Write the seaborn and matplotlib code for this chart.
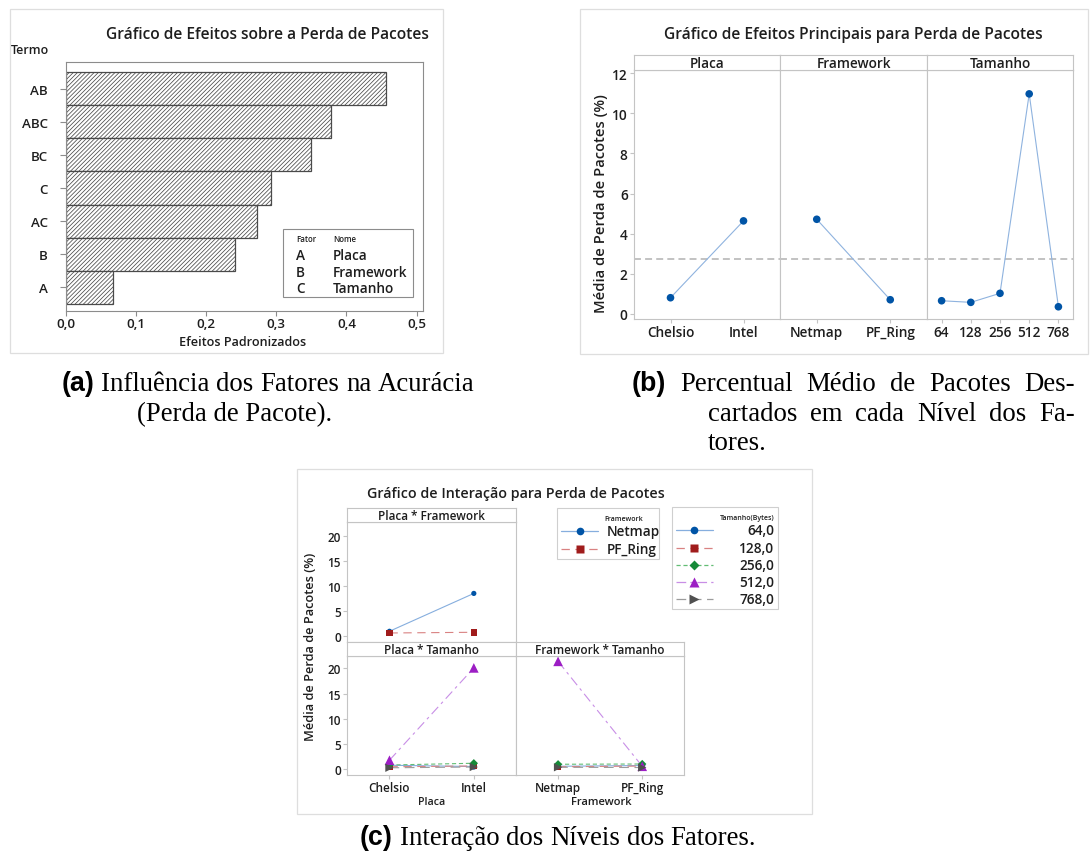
import numpy as np
import pandas as pd
import matplotlib
matplotlib.use("Agg")
import matplotlib.pyplot as plt
import seaborn as sns
from matplotlib.patches import Rectangle

# ---------------- data ----------------
effect_terms = ["AB", "ABC", "BC", "C", "AC", "B", "A"]
effect_values = [0.456, 0.378, 0.350, 0.292, 0.272, 0.241, 0.067]
effect_ticks = [0.0, 0.1, 0.2, 0.3, 0.4, 0.5]
effect_tick_labels = ["0,0", "0,1", "0,2", "0,3", "0,4", "0,5"]
factor_letters = ["A", "B", "C"]
factor_names = ["Placa", "Framework", "Tamanho"]

placa_levels = ["Chelsio", "Intel"]
placa_means = [0.81, 4.64]
framework_levels = ["Netmap", "PF_Ring"]
framework_means = [4.72, 0.71]
tamanho_levels = ["64", "128", "256", "512", "768"]
tamanho_means = [0.66, 0.58, 1.03, 10.97, 0.36]
grand_mean = 2.73
main_yticks = [0, 2, 4, 6, 8, 10, 12]

# Placa * Framework (values at Chelsio, Intel)
pf_netmap = [0.94, 8.50]
pf_pfring = [0.60, 0.74]
# Placa * Tamanho (values at Chelsio, Intel)
pt_64 = [0.80, 0.55]
pt_128 = [0.50, 0.66]
pt_256 = [0.85, 1.20]
pt_512 = [1.80, 20.10]
pt_768 = [0.30, 0.45]
# Framework * Tamanho (values at Netmap, PF_Ring)
ft_64 = [0.60, 0.75]
ft_128 = [0.50, 0.65]
ft_256 = [1.00, 1.05]
ft_512 = [21.40, 0.60]
ft_768 = [0.40, 0.35]
tamanho_legend_labels = ["64,0", "128,0", "256,0", "512,0", "768,0"]
inter_yticks = [0, 5, 10, 15, 20]

# ---------------- styles ----------------
sns.set_style("white")
plt.rcParams["font.family"] = ["Open Sans", "DejaVu Sans"]
plt.rcParams["hatch.linewidth"] = 0.55
plt.rcParams["lines.scale_dashes"] = False

W, H = 1091, 854
fig = plt.figure(figsize=(W / 100, H / 100), dpi=100)
TXT = "#1e1e1e"
FRAME = "#c4c4c4"
WT = "semibold"

def px_axes(x0, y0, x1, y1):
    return fig.add_axes([x0 / W, 1 - y1 / H, (x1 - x0) / W, (y1 - y0) / H])

size_line_col = {"64": "#86aede", "128": "#d98282", "256": "#62bd74", "512": "#c88ee6", "768": "#9c9c9c"}
size_mark_col = {"64": "#0054a6", "128": "#a01c1c", "256": "#168a38", "512": "#9c1ec4", "768": "#505050"}
size_markers = {"64": "o", "128": "s", "256": "D", "512": "^", "768": ">"}
size_dashes = {"64": "", "128": (6, 4), "256": (3, 2), "512": (7, 3, 2, 3), "768": (7, 4)}
size_sizes = {"64": 20, "128": 20, "256": 18, "512": 48, "768": 36}
fw_line_col = {"Netmap": "#86aede", "PF_Ring": "#d98282"}
fw_mark_col = {"Netmap": "#0054a6", "PF_Ring": "#a01c1c"}
fw_markers = {"Netmap": "o", "PF_Ring": "s"}
fw_dashes = {"Netmap": "", "PF_Ring": (6, 4)}
fw_sizes = {"Netmap": 14, "PF_Ring": 22}

def style_frame(ax, color=FRAME, lw=0.8):
    for s in ax.spines.values():
        s.set_color(color)
        s.set_linewidth(lw)

# ---------------- panel (a) ----------------
axa = px_axes(65.7, 63, 423, 312)
sns.barplot(x=effect_values, y=effect_terms, orient="h", color="white", saturation=1,
            edgecolor="#4a4a4a", linewidth=0.9, hatch="////////", width=1.0,
            errorbar=None, ax=axa)
axa.set_xlim(0, 0.509)
axa.set_ylim(6.71, -0.8)
axa.set_xticks(effect_ticks)
axa.set_xticklabels(effect_tick_labels)
axa.set_xlabel("")
axa.set_ylabel("")
style_frame(axa, "#8c8c8c")
axa.tick_params(axis="y", length=4.5, width=0.8, color="#8c8c8c", pad=8.5,
                labelsize=9.6, labelcolor=TXT, left=True)
axa.tick_params(axis="x", length=3.5, width=0.8, color="#8c8c8c", pad=1,
                labelsize=9.6, labelcolor=TXT, bottom=True)
for t in axa.get_yticklabels() + axa.get_xticklabels():
    t.set_fontweight(WT)

# ---------------- panel (b) ----------------
bx = [634, 780, 927, 1073]
main_levels = [placa_levels, framework_levels, tamanho_levels]
main_vals = [placa_means, framework_means, tamanho_means]
for i in range(3):
    ax = px_axes(bx[i], 71, bx[i + 1], 320)
    sns.lineplot(x=main_levels[i], y=main_vals[i], color="#8fb3df", lw=0.8,
                 sort=False, errorbar=None, ax=ax)
    sns.scatterplot(x=main_levels[i], y=main_vals[i], color="#0054a6", s=30,
                    edgecolor="none", zorder=3, ax=ax)
    ax.axhline(grand_mean, color="#bdbdbd", lw=1.3, ls=(0, (5, 3)), zorder=1)
    ax.set_ylim(-0.25, 12.16)
    ax.set_xlim(-0.5, len(main_levels[i]) - 0.5)
    ax.set_yticks(main_yticks)
    style_frame(ax)
    ax.tick_params(axis="x", length=3, width=0.8, color=FRAME, pad=1.5,
                   labelsize=9.8, labelcolor=TXT, bottom=True)
    if i == 0:
        ax.tick_params(axis="y", length=3, width=0.8, color=FRAME, pad=1.5,
                       labelsize=9.8, labelcolor=TXT, left=True)
    else:
        ax.tick_params(axis="y", left=False, labelleft=False)
    for t in ax.get_yticklabels() + ax.get_xticklabels():
        t.set_fontweight(WT)
    st = px_axes(bx[i], 56, bx[i + 1], 71)
    st.set_xticks([]); st.set_yticks([])
    style_frame(st)
    st.text(0.5, 0.5, factor_names[i], ha="center", va="center", fontsize=9.8,
            fontweight=WT, color=TXT, transform=st.transAxes)

# ---------------- panel (c) ----------------
cx = [347.3, 516, 684.3]
df_pf = pd.DataFrame({"Placa": placa_levels * 2,
                      "Framework": ["Netmap"] * 2 + ["PF_Ring"] * 2,
                      "val": pf_netmap + pf_pfring})
df_pt = pd.DataFrame({"Placa": placa_levels * 5,
                      "Tamanho": [lv for lv in tamanho_levels for _ in range(2)],
                      "val": pt_64 + pt_128 + pt_256 + pt_512 + pt_768})
df_ft = pd.DataFrame({"Framework": framework_levels * 5,
                      "Tamanho": [lv for lv in tamanho_levels for _ in range(2)],
                      "val": ft_64 + ft_128 + ft_256 + ft_512 + ft_768})

def inter_panel(rect, strip, title, df, xcol, hcol, lcol, mcol, mk, ds, sz, order,
                ylim, show_y, show_x):
    ax = px_axes(*rect)
    sns.lineplot(data=df, x=xcol, y="val", hue=hcol, style=hcol, hue_order=order,
                 style_order=order, palette=lcol, dashes=ds, lw=0.8, sort=False,
                 errorbar=None, legend=False, ax=ax)
    sns.scatterplot(data=df, x=xcol, y="val", hue=hcol, style=hcol, size=hcol,
                    hue_order=order, style_order=order, size_order=order,
                    palette=mcol, markers=mk, sizes=sz, edgecolor="none",
                    legend=False, zorder=3, ax=ax)
    ax.set_xlim(-0.5, 1.5)
    ax.set_ylim(*ylim)
    ax.set_yticks(inter_yticks)
    ax.set_xlabel(""); ax.set_ylabel("")
    style_frame(ax)
    if show_y:
        ax.tick_params(axis="y", length=3, width=0.8, color=FRAME, pad=1.5,
                       labelsize=8.5, labelcolor=TXT, left=True)
    else:
        ax.tick_params(axis="y", left=False, labelleft=False)
    if show_x:
        ax.tick_params(axis="x", length=3, width=0.8, color=FRAME, pad=1,
                       labelsize=8.5, labelcolor=TXT, bottom=True)
    else:
        ax.tick_params(axis="x", bottom=False, labelbottom=False)
    for t in ax.get_yticklabels() + ax.get_xticklabels():
        t.set_fontweight(WT)
    st = px_axes(*strip)
    st.set_xticks([]); st.set_yticks([])
    style_frame(st)
    st.text(0.5, 0.5, title, ha="center", va="center", fontsize=8.5,
            fontweight=WT, color=TXT, transform=st.transAxes)

inter_panel((cx[0], 523.3, cx[1], 643.3), (cx[0], 509.3, cx[1], 523.3), "Placa * Framework",
            df_pf, "Placa", "Framework", fw_line_col, fw_mark_col, fw_markers, fw_dashes,
            fw_sizes, framework_levels, (-1.26, 22.7), True, False)
inter_panel((cx[0], 657.3, cx[1], 776), (cx[0], 643.3, cx[1], 657.3), "Placa * Tamanho",
            df_pt, "Placa", "Tamanho", size_line_col, size_mark_col, size_markers, size_dashes,
            size_sizes, tamanho_levels, (-1.13, 22.4), True, True)
inter_panel((cx[1], 657.3, cx[2], 776), (cx[1], 643.3, cx[2], 657.3), "Framework * Tamanho",
            df_ft, "Framework", "Tamanho", size_line_col, size_mark_col, size_markers, size_dashes,
            size_sizes, tamanho_levels, (-1.13, 22.4), False, True)

# ---------------- overlay (titles, legends, borders, captions) ----------------
ov = fig.add_axes([0, 0, 1, 1])
ov.set_xlim(0, W); ov.set_ylim(H, 0); ov.set_axis_off()
r = fig.canvas.get_renderer()

def fit(t, target, vertical=False):
    bb = t.get_window_extent(renderer=r)
    cur = bb.height if vertical else bb.width
    t.set_fontsize(t.get_fontsize() * target / cur)

for (x0, y0, x1, y1) in [(10, 10, 443, 354), (580, 10, 1088, 355), (297, 470, 812, 815)]:
    ov.add_patch(Rectangle((x0, y0), x1 - x0, y1 - y0, fill=False, ec="#dedede", lw=0.9))

semi = dict(fontweight=WT, color=TXT)
t = ov.text(267, 35, "Gráfico de Efeitos sobre a Perda de Pacotes", ha="center", va="center", fontsize=11, **semi); fit(t, 322)
t = ov.text(11, 51, "Termo", ha="left", va="center", fontsize=9, **semi); fit(t, 38)
t = ov.text(243, 343, "Efeitos Padronizados", ha="center", va="center", fontsize=9, **semi); fit(t, 127)
t = ov.text(853, 35, "Gráfico de Efeitos Principais para Perda de Pacotes", ha="center", va="center", fontsize=11, **semi); fit(t, 378)
t = ov.text(601, 204, "Média de Perda de Pacotes (%)", ha="center", va="center", rotation=90, fontsize=9.5, **semi); fit(t, 219, True)
t = ov.text(516, 494, "Gráfico de Interação para Perda de Pacotes", ha="center", va="center", fontsize=10, **semi); fit(t, 298)
t = ov.text(310, 647, "Média de Perda de Pacotes (%)", ha="center", va="center", rotation=90, fontsize=9, **semi); fit(t, 188, True)
t = ov.text(432, 803, "Placa", ha="center", va="center", fontsize=8.5, **semi); fit(t, 27)
t = ov.text(601, 803, "Framework", ha="center", va="center", fontsize=8.5, **semi); fit(t, 61)

# legend of panel (a)
ov.add_patch(Rectangle((283, 230), 130, 68, fc="white", ec="#8c8c8c", lw=0.8, zorder=5))
ov.text(296, 240, "Fator", ha="left", va="center", fontsize=5.7, zorder=6, **semi)
ov.text(333, 240, "Nome", ha="left", va="center", fontsize=5.7, zorder=6, **semi)
for k, (lt, nm) in enumerate(zip(factor_letters, factor_names)):
    yy = 256 + 16.7 * k
    ov.text(296, yy, lt, ha="left", va="center", fontsize=9.8, zorder=6, **semi)
    ov.text(333, yy, nm, ha="left", va="center", fontsize=9.8, zorder=6, **semi)

# legends of panel (c)
ov.add_patch(Rectangle((556.7, 509.3), 102.6, 50.7, fill=False, ec="#cfcfcf", lw=0.8))
ov.text(624, 520, "Framework", ha="center", va="center", fontsize=5, **semi)
for k, lv in enumerate(framework_levels):
    yy = 532.3 + 17.7 * k
    ov.plot([561, 598], [yy, yy], color=fw_line_col[lv], lw=0.9,
            dashes=fw_dashes[lv] if fw_dashes[lv] else (None, None))
    ov.plot([580], [yy], marker=fw_markers[lv], color=fw_mark_col[lv], ms=5.5, mec="none")
    ov.text(606.7, yy, lv, ha="left", va="center", fontsize=9.8, **semi)

ov.add_patch(Rectangle((671.7, 508.3), 106.6, 101.7, fill=False, ec="#cfcfcf", lw=0.8))
ov.text(746.7, 519, "Tamanho(Bytes)", ha="center", va="center", fontsize=5, **semi)
leg_y = [531, 548.7, 566, 583, 600]
for k, lv in enumerate(tamanho_levels):
    yy = leg_y[k]
    ov.plot([676, 712.7], [yy, yy], color=size_line_col[lv], lw=0.9,
            dashes=size_dashes[lv] if size_dashes[lv] else (None, None))
    ov.plot([694.3], [yy], marker=size_markers[lv], color=size_mark_col[lv],
            ms=6.5 if lv in ("512", "768") else 5.5, mec="none")
    ov.text(774.3, yy, tamanho_legend_labels[k], ha="right", va="center", fontsize=9.8, **semi)

# captions
FS = 19.3
serif = dict(family=["Liberation Serif", "DejaVu Serif"], fontsize=FS, color="black")
sansb = dict(family=["Liberation Sans", "DejaVu Sans"], fontweight="bold", fontsize=FS, color="black")

def words_line(items, x0, y, x1=None, center=None):
    ts = [ov.text(0, y, s, ha="left", va="baseline", **kw) for s, kw in items]
    ws = [tt.get_window_extent(renderer=r).width for tt in ts]
    probe2 = ov.text(0, y, "a a", **serif)
    probe1 = ov.text(0, y, "aa", **serif)
    space = probe2.get_window_extent(renderer=r).width - probe1.get_window_extent(renderer=r).width
    probe2.remove(); probe1.remove()
    if x1 is not None and len(ts) > 1:
        gap = (x1 - x0 - sum(ws)) / (len(ts) - 1)
    else:
        gap = space
    if center is not None:
        tot = sum(ws) + gap * (len(ts) - 1)
        x0 = center - tot / 2
    x = x0
    for tt, w in zip(ts, ws):
        tt.set_x(x)
        x += w + gap

words_line([("(a)", sansb)] + [(w, serif) for w in "Influência dos Fatores na Acurácia".split()], 0, 391, center=268)
words_line([("(Perda de Pacote).", serif)], 137, 421)
words_line([("(b)", sansb)] + [(w, serif) for w in "Percentual Médio de Pacotes Des-".split()], 632, 391, x1=1075)
words_line([(w, serif) for w in "cartados em cada Nível dos Fa-".split()], 708, 421, x1=1075)
words_line([("tores.", serif)], 708, 450)
words_line([("(c)", sansb)] + [(w, serif) for w in "Interação dos Níveis dos Fatores.".split()], 0, 845, center=558)

fig.savefig("out.png", dpi=100)
